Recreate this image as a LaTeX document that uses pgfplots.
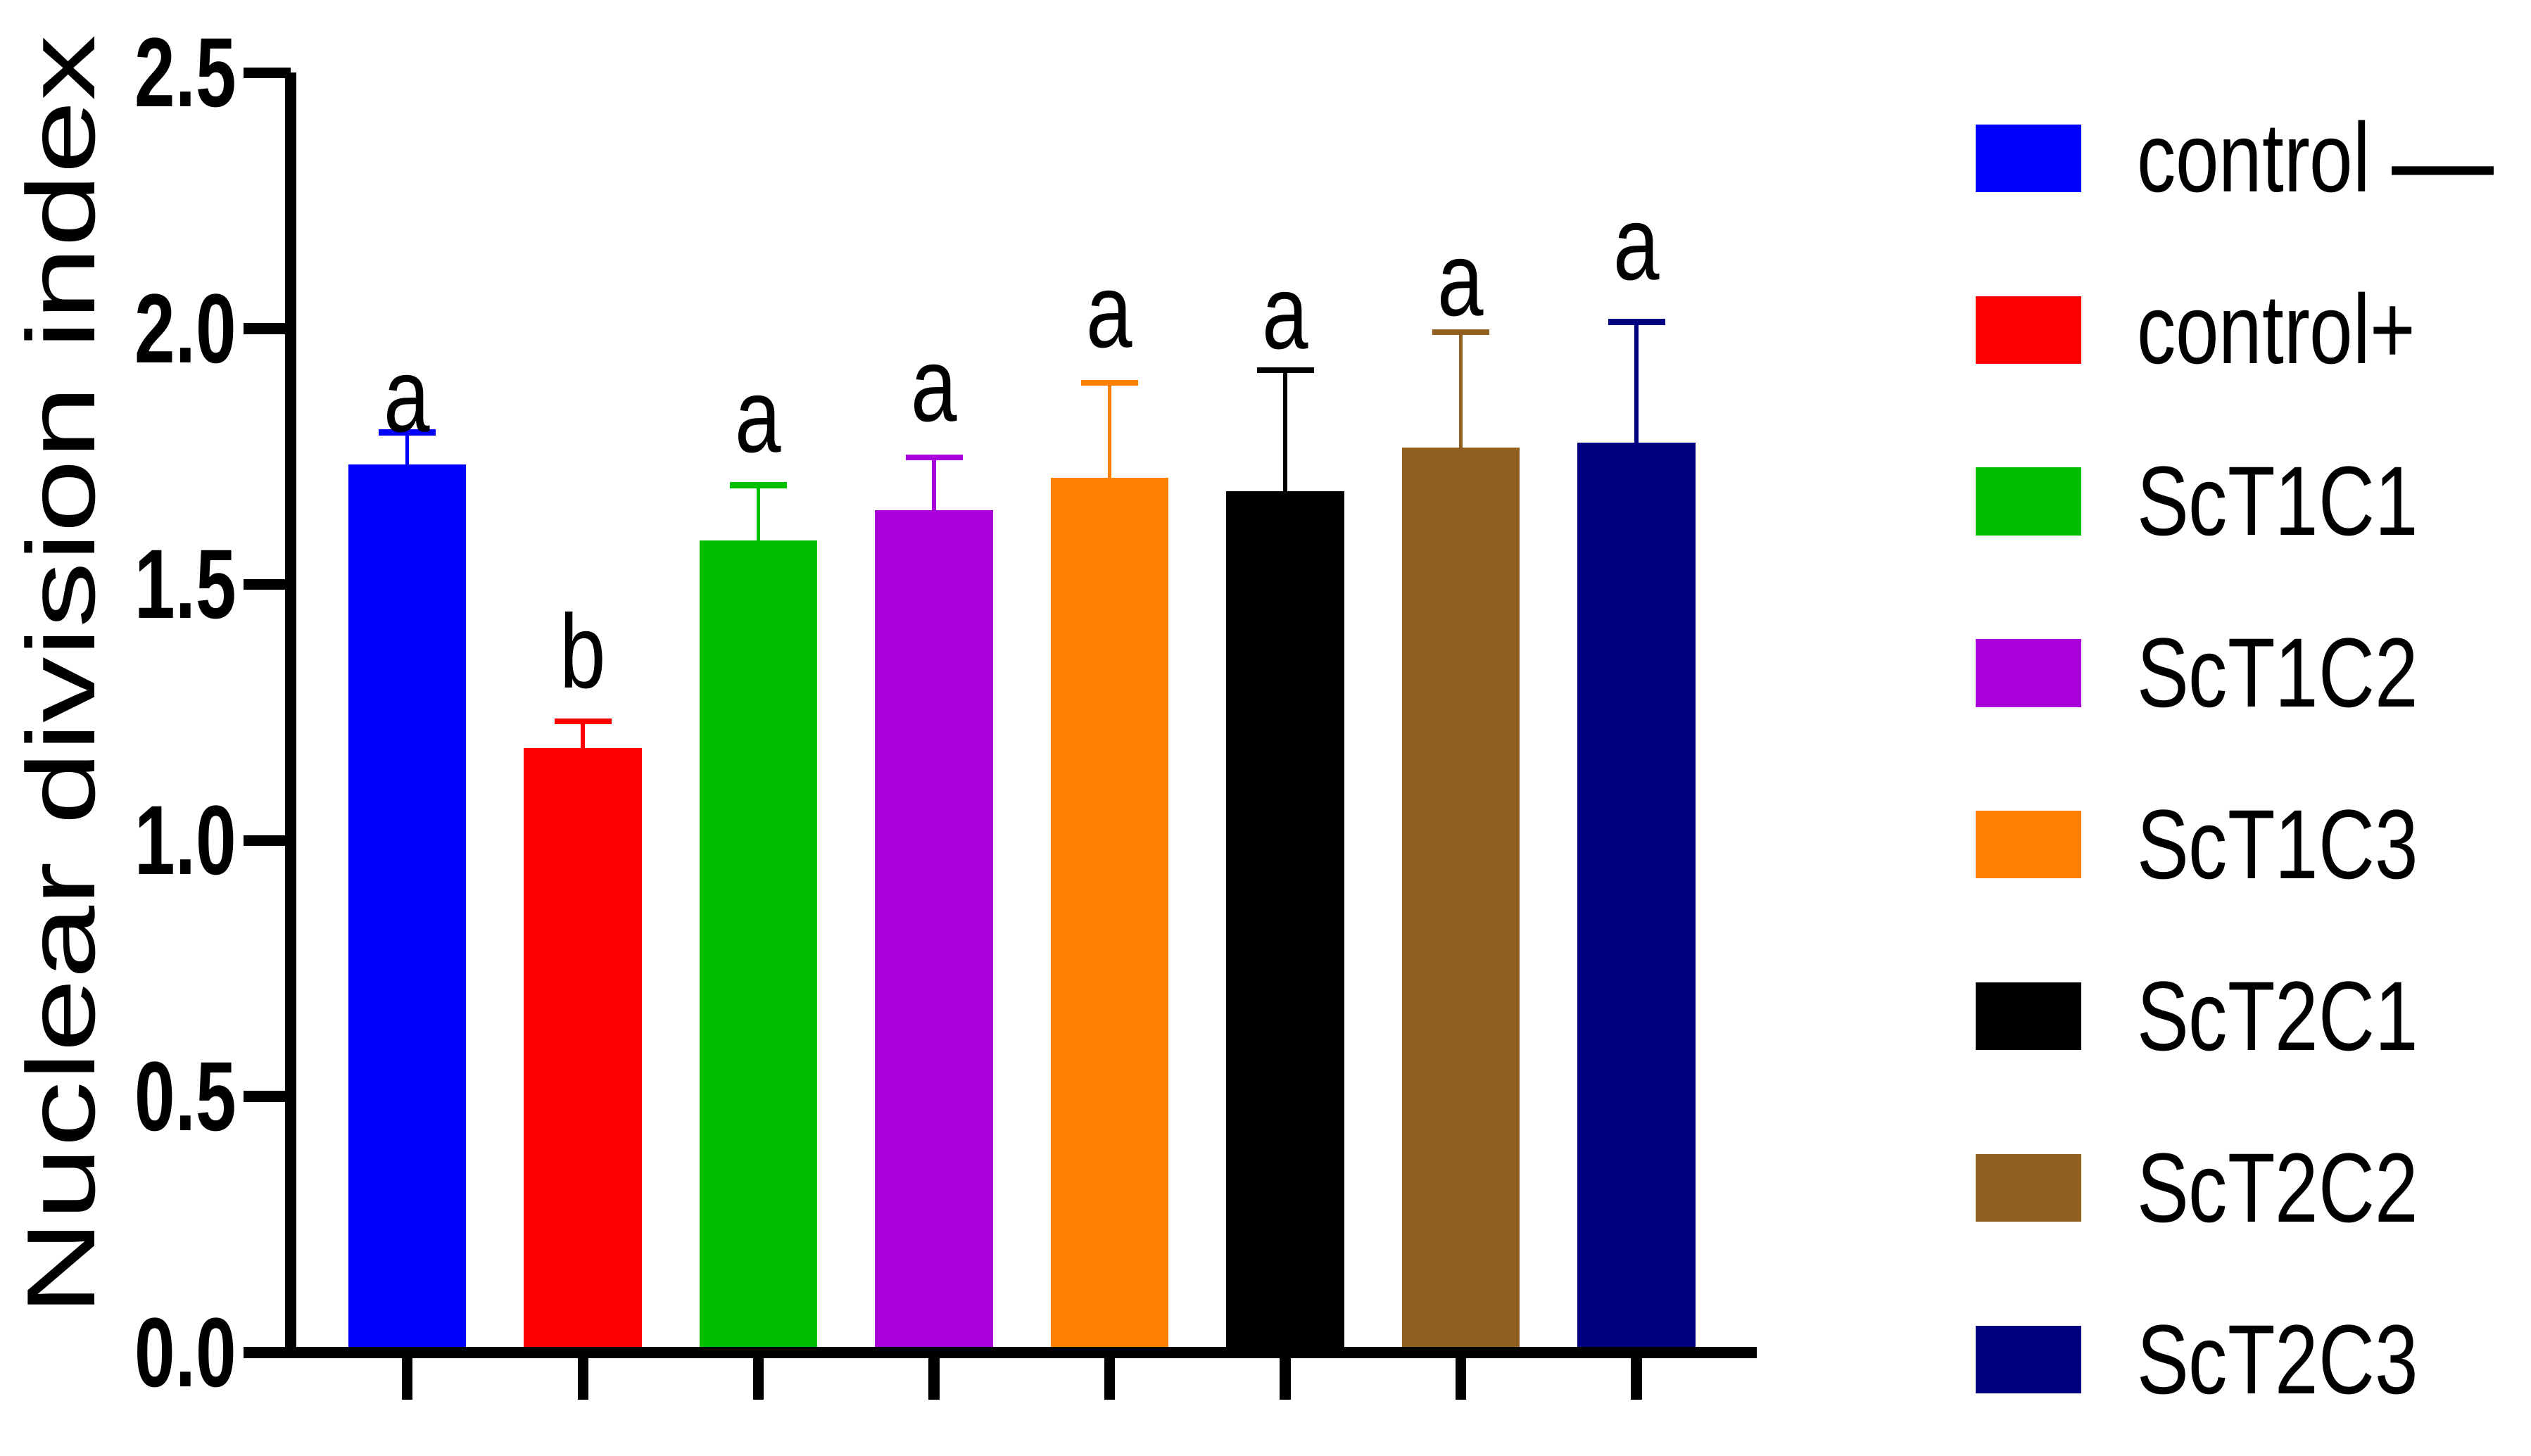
\documentclass[border=0pt]{standalone}
\usepackage{fontspec}
\setmainfont{Liberation Sans}
\newfontfamily\tickfont[FakeStretch=0.74]{Liberation Sans}
\newfontfamily\lblfont[FakeStretch=0.79]{Liberation Sans}
\newfontfamily\ylfont[FakeStretch=1.36]{Liberation Sans}
\usepackage{pgfplots}
\pgfplotsset{compat=1.18}

\definecolor{cblue}{RGB}{0,0,255}
\definecolor{cred}{RGB}{255,0,0}
\definecolor{cgreen}{RGB}{0,190,0}
\definecolor{cpurple}{RGB}{170,0,220}
\definecolor{corange}{RGB}{255,128,0}
\definecolor{cblack}{RGB}{0,0,0}
\definecolor{cbrown}{RGB}{145,96,32}
\definecolor{cnavy}{RGB}{0,0,128}

\pgfplotsset{
  sqlegend/.style={legend image code/.code={\fill[##1] (0pt,-6.5pt) rectangle (19.65pt,6.1pt);}},
  mybar/.style={ybar, bar width=21.9pt, bar shift=0pt, draw=none, fill=#1, sqlegend,
    error bars/y dir=plus, error bars/y explicit,
    error bars/error mark=|,
    error bars/error bar style={line width=0.7pt, draw=#1, solid},
    error bars/error mark options={line width=1.1pt, mark size=5.3pt, draw=#1, solid}},
}

\begin{document}
\begin{tikzpicture}
\begin{axis}[
  at={(0pt,0pt)}, anchor=south west,
  scale only axis, width=272.5pt, height=237.9pt,
  xmin=-0.664, xmax=7.686, ymin=0, ymax=2.5,
  axis x line*=bottom, axis y line*=left,
  axis line style={line width=2pt, -},
  axis on top, clip=false,
  xtick={0,...,7}, xticklabels={,,,,,,,},
  ytick={0,0.5,1,1.5,2,2.5},
  tick align=outside, major tick length=8.8pt,
  tick style={line width=2pt, black},
  /pgf/number format/assume math mode=true,
  yticklabel style={font=\tickfont\bfseries\fontsize{18.3}{20}\selectfont,
    /pgf/number format/fixed, /pgf/number format/fixed zerofill,
    /pgf/number format/precision=1, inner sep=0pt, xshift=-1.1pt},
  ylabel={Nuclear division index},
  ylabel style={at={(axis description cs:-0.1325,0.028)}, anchor=south west,
    inner sep=0pt, font=\ylfont\fontsize{18}{20}\selectfont},
  legend cell align=left,
  legend style={draw=none, fill=none, inner sep=0pt, outer sep=0pt,
    at={(axis description cs:1.149,0.9613)}, anchor=north west,
    row sep=18.9pt, column sep=10.4pt,
    font=\lblfont\fontsize{18.3}{20}\selectfont,
    cells={anchor=west},
    nodes={inner sep=0pt, text height=13pt, text depth=0pt}},
]
\addplot[mybar=cblue]   coordinates {(0,1.734) +- (0,0.063)};
\addlegendentry{control {\fontsize{24}{24}\selectfont\raisebox{-2.2pt}{—}}}
\addplot[mybar=cred]    coordinates {(1,1.180) +- (0,0.053)};
\addlegendentry{control+}
\addplot[mybar=cgreen]  coordinates {(2,1.586) +- (0,0.108)};
\addlegendentry{ScT1C1}
\addplot[mybar=cpurple] coordinates {(3,1.645) +- (0,0.103)};
\addlegendentry{ScT1C2}
\addplot[mybar=corange] coordinates {(4,1.709) +- (0,0.185)};
\addlegendentry{ScT1C3}
\addplot[mybar=cblack]  coordinates {(5,1.683) +- (0,0.236)};
\addlegendentry{ScT2C1}
\addplot[mybar=cbrown]  coordinates {(6,1.767) +- (0,0.226)};
\addlegendentry{ScT2C2}
\addplot[mybar=cnavy]   coordinates {(7,1.777) +- (0,0.236)};
\addlegendentry{ScT2C3}

% significance letters
\begin{scope}[every node/.style={font=\lblfont\fontsize{19.5}{21}\selectfont, anchor=base, inner sep=0pt}]
\node at (axis cs:0,1.799) {a};
\node at (axis cs:1,1.298) {b};
\node at (axis cs:2,1.758) {a};
\node at (axis cs:3,1.819) {a};
\node at (axis cs:4,1.963) {a};
\node at (axis cs:5,1.961) {a};
\node at (axis cs:6,2.025) {a};
\node at (axis cs:7,2.095) {a};
\end{scope}
\end{axis}
\pgfresetboundingbox
\path (-54.03pt,-19.2pt) rectangle (416.37pt,251.4pt);
\end{tikzpicture}
\end{document}
